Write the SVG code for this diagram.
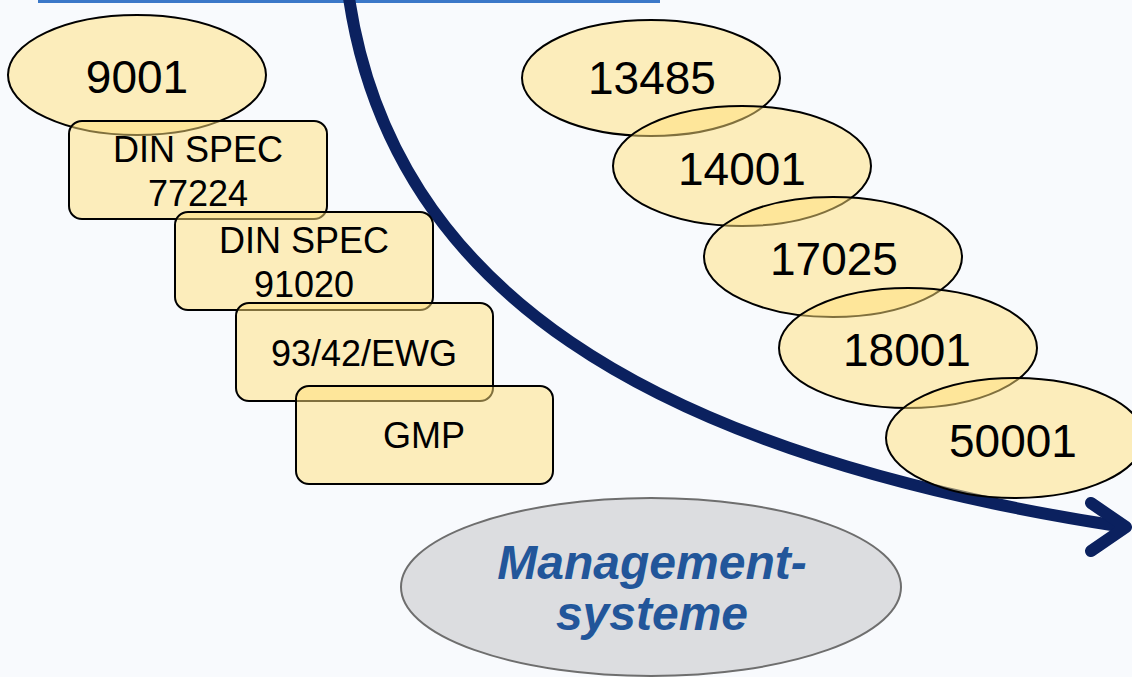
<svg xmlns="http://www.w3.org/2000/svg" width="1132" height="677" viewBox="0 0 1132 677">
  <style>
    .std { fill: #FFDF7A; fill-opacity: 0.5; stroke: #000; stroke-width: 2; }
    .lbl { font-family: "Liberation Sans", Arial, sans-serif; fill: #000; text-anchor: middle; }
    .big { font-size: 46px; }
    .small { font-size: 36px; }
    .ms { font-family: "Liberation Sans", Arial, sans-serif; font-size: 48px; font-weight: bold; font-style: italic; fill: #22569A; text-anchor: middle; }
  </style>
  <rect x="0" y="0" width="1132" height="677" fill="#F8FAFD"/>
  <rect x="38" y="0" width="622" height="3" fill="#3B78C8"/>

  <g id="connectors">
    <path d="M349,-2 C392,285 640,452 1118,526" fill="none" stroke="#0B215F" stroke-width="12"/>
    <path d="M1091,503 L1126,527 L1091,551" fill="none" stroke="#0B215F" stroke-width="12" stroke-linecap="round" stroke-linejoin="round"/>
  </g>

  <g id="n9001">
    <ellipse class="std" cx="137" cy="75" rx="129" ry="60"/>
    <text class="lbl big" x="137" y="93">9001</text>
  </g>
  <g id="din77224">
    <rect class="std" x="69" y="121" width="258" height="98" rx="13"/>
    <text class="lbl small" x="198" y="162">DIN SPEC</text>
    <text class="lbl small" x="198" y="206">77224</text>
  </g>
  <g id="din91020">
    <rect class="std" x="175" y="212" width="258" height="98" rx="13"/>
    <text class="lbl small" x="304" y="253">DIN SPEC</text>
    <text class="lbl small" x="304" y="297">91020</text>
  </g>
  <g id="ewg">
    <rect class="std" x="236" y="303" width="257" height="98" rx="13"/>
    <text class="lbl small" x="364" y="366">93/42/EWG</text>
  </g>
  <g id="gmp">
    <rect class="std" x="296" y="386" width="257" height="98" rx="13"/>
    <text class="lbl small" x="424" y="448">GMP</text>
  </g>

  <g id="n13485">
    <ellipse class="std" cx="651" cy="78" rx="129" ry="58"/>
    <text class="lbl big" x="652" y="94">13485</text>
  </g>
  <g id="n14001">
    <ellipse class="std" cx="742" cy="166" rx="129" ry="60"/>
    <text class="lbl big" x="742" y="185">14001</text>
  </g>
  <g id="n17025">
    <ellipse class="std" cx="833" cy="257" rx="129" ry="60"/>
    <text class="lbl big" x="834" y="275">17025</text>
  </g>
  <g id="n18001">
    <ellipse class="std" cx="908" cy="348" rx="129" ry="60"/>
    <text class="lbl big" x="907" y="366">18001</text>
  </g>
  <g id="n50001">
    <ellipse class="std" cx="1015" cy="438" rx="129" ry="60"/>
    <text class="lbl big" x="1013" y="457">50001</text>
  </g>

  <g id="management">
    <ellipse cx="651" cy="587" rx="250" ry="89" fill="#DCDDE0" stroke="#6E6E6E" stroke-width="2"/>
    <text class="ms" x="652" y="579">Management-</text>
    <text class="ms" x="652" y="630">systeme</text>
  </g>
</svg>
